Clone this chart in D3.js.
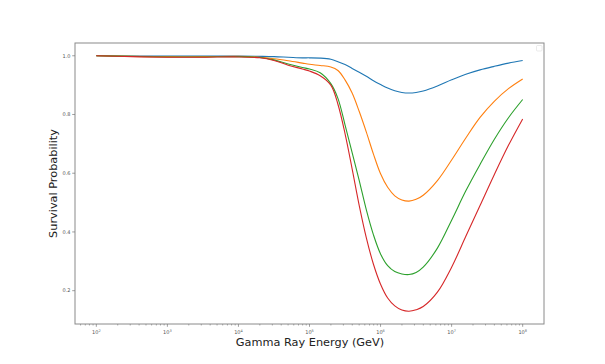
<!DOCTYPE html>
<html>
<head>
<meta charset="utf-8">
<script src="https://cdn.jsdelivr.net/npm/d3@7"></script>
<style>
  body { margin: 0; background: #fff; }
  svg text { font-family: "DejaVu Sans", sans-serif; }
</style>
</head>
<body>
<svg id="chart"></svg>
<script>
// log10 of gamma ray energy (GeV) at which each curve was read
const logEnergy = [2.0, 2.5, 3.0, 3.5, 4.0, 4.3, 4.5, 4.7, 4.9, 5.0, 5.15, 5.3, 5.4, 5.5, 5.6, 5.7, 5.8, 5.9,
  6.0, 6.1, 6.2, 6.3, 6.4, 6.5, 6.6, 6.8, 7.0, 7.2, 7.4, 7.6, 7.8, 8.0];

const blueSeries = [1.0, 0.999, 0.999, 0.999, 0.999, 0.998, 0.997, 0.995, 0.993, 0.993, 0.992, 0.988, 0.980, 0.970,
  0.957, 0.944, 0.930, 0.915, 0.902, 0.890, 0.881, 0.875, 0.873, 0.875, 0.880, 0.897, 0.918, 0.937, 0.952, 0.964,
  0.975, 0.984];
const orangeSeries = [1.0, 0.998, 0.997, 0.997, 0.998, 0.995, 0.990, 0.983, 0.975, 0.971, 0.967, 0.962, 0.950, 0.918,
  0.873, 0.810, 0.740, 0.665, 0.598, 0.552, 0.523, 0.509, 0.505, 0.511, 0.525, 0.575, 0.645, 0.720, 0.790, 0.845,
  0.888, 0.921];
const greenSeries = [1.0, 0.998, 0.996, 0.996, 0.997, 0.994, 0.986, 0.972, 0.960, 0.955, 0.942, 0.905, 0.855, 0.765,
  0.670, 0.575, 0.475, 0.390, 0.325, 0.285, 0.265, 0.257, 0.255, 0.262, 0.280, 0.345, 0.440, 0.540, 0.630, 0.715,
  0.789, 0.851];
const redSeries = [1.0, 0.997, 0.995, 0.995, 0.996, 0.993, 0.984, 0.968, 0.955, 0.948, 0.932, 0.900, 0.835, 0.735,
  0.615, 0.490, 0.380, 0.290, 0.222, 0.175, 0.148, 0.134, 0.130, 0.135, 0.146, 0.195, 0.280, 0.385, 0.490, 0.595,
  0.695, 0.785];

const xTickExponents = [2, 3, 4, 5, 6, 7, 8];
const yTicks = [0.2, 0.4, 0.6, 0.8, 1.0];

const seriesList = [
  { values: blueSeries, color: "#1f77b4" },
  { values: orangeSeries, color: "#ff7f0e" },
  { values: greenSeries, color: "#2ca02c" },
  { values: redSeries, color: "#d62728" },
];

const W = 605, H = 364;
const margin = { top: 43, right: 61, bottom: 40, left: 75 };
const width = W - margin.left - margin.right;
const height = H - margin.top - margin.bottom;

const svg = d3.select("#chart").attr("width", W).attr("height", H);
const g = svg.append("g").attr("transform", `translate(${margin.left},${margin.top})`);

// matplotlib style 5% margins
const x = d3.scaleLog().domain([Math.pow(10, 1.7), Math.pow(10, 8.3)]).range([0, width]);
const y = d3.scaleLinear().domain([0.0865, 1.0435]).range([height, 0]);

// lines
const line = d3.line()
  .x((d, i) => x(Math.pow(10, logEnergy[i])))
  .y((d) => y(d))
  .curve(d3.curveCatmullRom.alpha(0.5));

seriesList.forEach((s) => {
  g.append("path")
    .datum(s.values)
    .attr("fill", "none")
    .attr("stroke", s.color)
    .attr("stroke-width", 1.1)
    .attr("d", line);
});

// frame
g.append("rect")
  .attr("width", width).attr("height", height)
  .attr("fill", "none").attr("stroke", "#8a8a8a").attr("stroke-width", 1);

// x axis (major + minor ticks)
const minor = [];
for (let e = 1; e <= 8; e++) {
  for (let m = 2; m <= 9; m++) {
    const v = m * Math.pow(10, e);
    if (v >= x.domain()[0] && v <= x.domain()[1]) minor.push(v);
  }
}
const xAxis = g.append("g").attr("transform", `translate(0,${height})`);
xAxis.selectAll(".minor").data(minor).enter().append("line")
  .attr("x1", (d) => x(d)).attr("x2", (d) => x(d))
  .attr("y1", 0).attr("y2", 1.5)
  .attr("stroke", "#777").attr("stroke-width", 0.6);
const xMajor = xAxis.selectAll(".major").data(xTickExponents).enter().append("g")
  .attr("transform", (d) => `translate(${x(Math.pow(10, d))},0)`);
xMajor.append("line").attr("y2", 2.8).attr("stroke", "#777").attr("stroke-width", 0.7);
const xt = xMajor.append("text")
  .attr("y", 10).attr("text-anchor", "middle")
  .attr("font-size", 5).attr("fill", "#555");
xt.append("tspan").text("10");
xt.append("tspan").attr("dy", -2).attr("font-size", 3.5).text((d) => d);

// y axis
const yAxis = g.append("g");
const yMajor = yAxis.selectAll(".major").data(yTicks).enter().append("g")
  .attr("transform", (d) => `translate(0,${y(d)})`);
yMajor.append("line").attr("x2", -2.8).attr("stroke", "#777").attr("stroke-width", 0.7);
yMajor.append("text")
  .attr("x", -4.5).attr("dy", "0.35em").attr("text-anchor", "end")
  .attr("font-size", 5).attr("fill", "#555")
  .text((d) => d.toFixed(1));

// axis labels
svg.append("text")
  .attr("x", 310).attr("y", 346)
  .attr("text-anchor", "middle").attr("font-size", 11.3).attr("fill", "#222")
  .text("Gamma Ray Energy (GeV)");
svg.append("text")
  .attr("transform", `translate(57,${margin.top + height / 2}) rotate(-90)`)
  .attr("text-anchor", "middle").attr("font-size", 11.3).attr("fill", "#222")
  .text("Survival Probability");

// empty legend box
g.append("rect")
  .attr("x", width - 7.5).attr("y", 2.5).attr("width", 5.5).attr("height", 5.5).attr("rx", 1)
  .attr("fill", "#fff").attr("stroke", "#ddd").attr("stroke-width", 0.6);
</script>
</body>
</html>
